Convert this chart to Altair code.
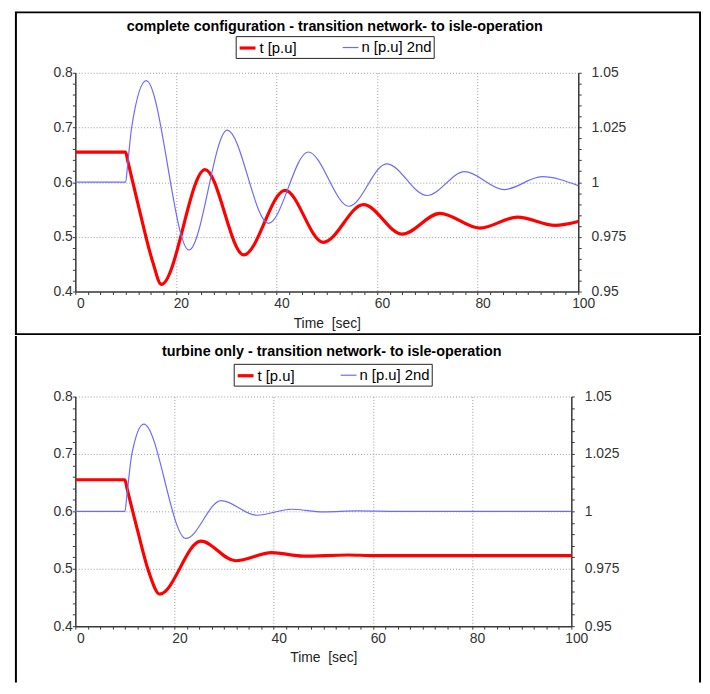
import altair as alt
import pandas as pd

FONT = "Liberation Sans"
SERIES = ["t [p.u]", "n [p.u] 2nd"]
COLORS = ["#ff0000", "#6b6bff"]
LINE_WIDTHS = [3.2, 1.2]

TOP_TITLE = "complete configuration - transition network- to isle-operation"
BOTTOM_TITLE = "turbine only - transition network- to isle-operation"
X_TITLE = "Time \u00a0[sec]"

X_TICKS = [i * 2.5 for i in range(41)]
LEFT_TICKS = [round(0.4 + i * 0.02, 3) for i in range(21)]
RIGHT_TICKS = [round(0.95 + i * 0.005, 4) for i in range(21)]

# ---- top panel (complete configuration) ----
top_t_time = [0, 10.0, 10.4, 12.8, 15.4, 17.1, 25.8, 33.5, 41.7, 49.3, 57.3, 65.0,
              72.5, 80.4, 87.9, 95.4, 100]
top_t_val = [0.655, 0.655, 0.640, 0.547, 0.454, 0.413, 0.623, 0.467, 0.585, 0.490,
             0.559, 0.505, 0.543, 0.516, 0.536, 0.521, 0.528]

top_n_time = [0, 10.0, 10.4, 11.2, 14.1, 22.6, 30.2, 38.4, 46.3, 54.4, 61.9, 69.9,
              77.4, 85.3, 92.8, 100]
top_n_val = [1.0, 1.0, 1.008, 1.025, 1.0464, 0.969, 1.0238, 0.9812, 1.0138, 0.989,
             1.0084, 0.9939, 1.0048, 0.9966, 1.0025, 0.9984]

# ---- bottom panel (turbine only) ----
bot_t_time = [0, 10.0, 10.4, 12.6, 14.8, 17.0, 25.3, 32.3, 39.6, 46.0, 55.0, 60.0, 100]
bot_t_val = [0.655, 0.655, 0.641, 0.565, 0.495, 0.456, 0.548, 0.514, 0.528, 0.522,
             0.524, 0.523, 0.523]

bot_n_time = [0, 10.0, 10.4, 11.4, 13.8, 22.3, 29.4, 36.6, 43.6, 50.0, 57.0, 65.0, 100]
bot_n_val = [1.0, 1.0, 1.007, 1.025, 1.038, 0.9882, 1.0047, 0.9983, 1.0009, 0.9998,
             1.0002, 1.0, 1.0]

AXIS_COLOR = "#3a3a3a"
LABEL_COLOR = "#333333"

X_MAJOR_TEST = "datum.value % 20 === 0"
LEFT_MAJOR_TEST = "abs(datum.value * 10 - round(datum.value * 10)) < 0.001"
RIGHT_MAJOR_TEST = "abs(datum.value * 40 - round(datum.value * 40)) < 0.001"

LEGEND_W = 193
LEGEND_H = 20


def x_axis():
    return alt.Axis(
        values=X_TICKS, format="~r",
        labelExpr=f"{X_MAJOR_TEST} ? datum.label : ''",
        grid=True, gridDash=[1, 2], gridColor="#9a9a9a",
        gridOpacity={"condition": {"test": X_MAJOR_TEST, "value": 1}, "value": 0},
        labelFlush=False, labelOverlap=False, labelOffset=5, labelPadding=2,
        tickSize=3, title=X_TITLE, titlePadding=6,
    )


def left_axis():
    return alt.Axis(
        orient="left", values=LEFT_TICKS, format="~r",
        labelExpr=f"{LEFT_MAJOR_TEST} ? datum.label : ''",
        grid=True, gridDash=[1, 2], gridColor="#9a9a9a",
        gridOpacity={"condition": {"test": LEFT_MAJOR_TEST, "value": 1}, "value": 0},
        labelFlush=False, labelOverlap=False, labelPadding=0, tickSize=3, title=None,
    )


def right_axis():
    return alt.Axis(
        orient="right", values=RIGHT_TICKS, format="~r",
        labelExpr=f"{RIGHT_MAJOR_TEST} ? datum.label : ''",
        grid=False, labelFlush=False, labelOverlap=False, labelPadding=10,
        tickSize=3, title=None,
    )


def panel(title, t_time, t_val, n_time, n_val, width, height, leg_x, leg_y,
          title_x, title_y, box_bottom, closed):
    legend = alt.Legend(
        orient="none", legendX=leg_x, legendY=leg_y, direction="horizontal", title=None,
        strokeColor="#222222", fillColor="white", padding=2, symbolType="stroke",
        symbolSize=256, labelFont=FONT, labelFontSize=15, labelColor="black",
        columnPadding=43, labelOffset=2, rowPadding=0,
    )
    color = alt.Color("series:N", scale=alt.Scale(domain=SERIES, range=COLORS), legend=legend)
    sw = alt.StrokeWidth("series:N", scale=alt.Scale(domain=SERIES, range=LINE_WIDTHS), legend=legend)
    xenc = alt.X("time:Q", scale=alt.Scale(domain=[0, 100], nice=False, zero=False), axis=x_axis())

    df_t = pd.DataFrame({"time": t_time, "value": t_val, "series": SERIES[0]})
    df_n = pd.DataFrame({"time": n_time, "value": n_val, "series": SERIES[1]})

    red = alt.Chart(df_t).mark_line(interpolate="monotone", strokeJoin="round").encode(
        x=xenc,
        y=alt.Y("value:Q", scale=alt.Scale(domain=[0.4, 0.8], nice=False, zero=False), axis=left_axis()),
        color=color, strokeWidth=sw, order=alt.Order("time:Q"),
    )
    blue = alt.Chart(df_n).mark_line(interpolate="monotone", strokeJoin="round").encode(
        x=xenc,
        y=alt.Y("value:Q", scale=alt.Scale(domain=[0.95, 1.05], nice=False, zero=False), axis=right_axis()),
        color=color, strokeWidth=sw, order=alt.Order("time:Q"),
    )

    frame_data = alt.Data(values=[{"k": 1}])
    heading = alt.Chart(frame_data).mark_text(
        font=FONT, fontSize=14.5, fontWeight="bold", color="black",
        align="center", baseline="middle",
    ).encode(text=alt.value(title), x=alt.value(title_x), y=alt.value(title_y))

    # drop shadow of the legend box (right and bottom edges)
    shadow = [
        alt.Chart(frame_data).mark_rule(color="#4a4a4a", strokeWidth=2).encode(
            x=alt.value(leg_x + 3), x2=alt.value(leg_x + LEGEND_W + 2),
            y=alt.value(leg_y + LEGEND_H + 1)),
        alt.Chart(frame_data).mark_rule(color="#4a4a4a", strokeWidth=2).encode(
            x=alt.value(leg_x + LEGEND_W + 1),
            y=alt.value(leg_y + 3), y2=alt.value(leg_y + LEGEND_H + 2)),
    ]

    left_edge, right_edge, top_edge = -60, 631, -61
    rules = [
        alt.Chart(frame_data).mark_rule(color="black", strokeWidth=2).encode(
            x=alt.value(left_edge), y=alt.value(top_edge), y2=alt.value(box_bottom)),
        alt.Chart(frame_data).mark_rule(color="black", strokeWidth=2).encode(
            x=alt.value(right_edge), y=alt.value(top_edge), y2=alt.value(box_bottom)),
    ]
    if closed:
        rules += [
            alt.Chart(frame_data).mark_rule(color="black", strokeWidth=2).encode(
                x=alt.value(left_edge - 1), x2=alt.value(right_edge + 1), y=alt.value(top_edge)),
            alt.Chart(frame_data).mark_rule(color="black", strokeWidth=2).encode(
                x=alt.value(left_edge - 1), x2=alt.value(right_edge + 1), y=alt.value(box_bottom)),
        ]

    return alt.layer(red, blue, heading, *shadow, *rules).resolve_scale(y="independent").properties(
        width=width, height=height,
    )


top = panel(TOP_TITLE, top_t_time, top_t_val, top_n_time, top_n_val,
            508, 221, 162, -37, 262, -46, 264, True)
bottom = panel(BOTTOM_TITLE, bot_t_time, bot_t_val, bot_n_time, bot_n_val,
               501, 232, 160, -33, 259, -45, 289, False)

chart = alt.vconcat(top, bottom, spacing=0).resolve_scale(
    color="independent", strokeWidth="independent"
).properties(
    padding={"left": 6, "top": 0, "right": 0, "bottom": 0},
    background="white",
).configure_view(
    strokeWidth=0
).configure_axis(
    labelFont=FONT, labelFontSize=14, labelColor=LABEL_COLOR,
    titleFont=FONT, titleFontSize=14, titleFontWeight="normal", titleColor="#222222",
    domainColor=AXIS_COLOR, domainWidth=1.5, tickColor=AXIS_COLOR, tickWidth=1,
)

chart.save("out.html", embed_options={"renderer": "svg", "actions": False})
